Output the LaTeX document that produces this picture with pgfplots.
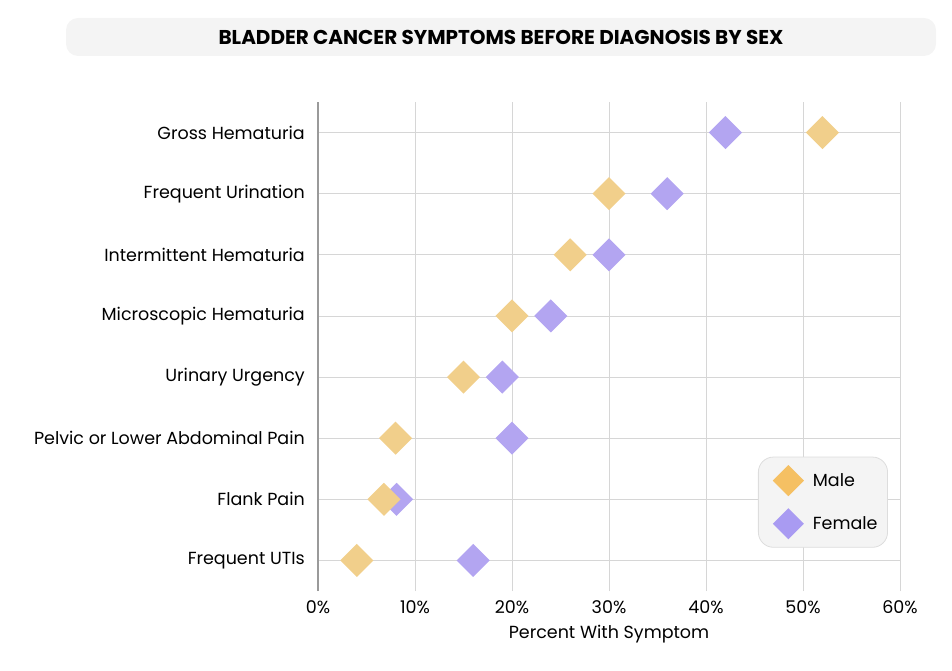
\documentclass[border=0pt]{standalone}
\usepackage{pgfplots}
\pgfplotsset{compat=1.18}
\usepackage{fontspec}
\setmainfont{Poppins}
\definecolor{malec}{HTML}{F5C063}
\definecolor{femalec}{HTML}{A99BF2}
\definecolor{malep}{HTML}{F1CF8B}
\definecolor{femalep}{HTML}{B3A5F1}
\definecolor{titlebg}{HTML}{F4F4F4}
\definecolor{legbg}{HTML}{F4F4F4}
\definecolor{legborder}{HTML}{DDDDDD}
\definecolor{gridc}{HTML}{D6D6D6}
\definecolor{axisc}{HTML}{9A9A9A}
\pgfplotsset{diamondlegend/.style={legend image code/.code={\path (-13pt,0pt); \draw[mark repeat=2,mark phase=2,##1] plot coordinates {(0cm,0cm) (0.3cm,0cm) (0.6cm,0cm)};}}}
\pgfplotstableread{
idx male female
0 4 16
1 6.8 8.1
2 8 20
3 15 19
4 20 24
5 26 30
6 30 36
7 52 42
}\symptoms
\begin{document}
\begin{tikzpicture}[x=1pt,y=1pt]
\useasboundingbox (0,0) rectangle (952,670);
\fill[titlebg, rounded corners=12pt] (66,614) rectangle (936,652);
\node[font=\bfseries\fontsize{20}{22}\selectfont, text=black] at (501,633) {BLADDER CANCER SYMPTOMS BEFORE DIAGNOSIS BY SEX};
\begin{axis}[
  at={(318pt,79pt)}, anchor=south west,
  scale only axis, width=582pt, height=489pt,
  xmin=0, xmax=60, ymin=-0.5, ymax=7.5,
  xtick={0,10,20,30,40,50,60},
  xticklabel={\pgfmathprintnumber{\tick}\%},
  ytick={0,1,2,3,4,5,6,7},
  yticklabels={Frequent UTIs, Flank Pain, Pelvic or Lower Abdominal Pain, Urinary Urgency, Microscopic Hematuria, Intermittent Hematuria, Frequent Urination, Gross Hematuria},
  /pgf/number format/assume math mode=true,
  major tick length=0pt,
  axis lines*=left,
  x axis line style={draw=none},
  y axis line style={draw=axisc, line width=1.2pt},
  grid=major,
  major grid style={draw=gridc, line width=0.8pt},
  tick label style={font=\fontsize{17.5}{20}\selectfont, text=black},
  xticklabel style={anchor=center, yshift=-16pt},
  yticklabel style={anchor=east, inner sep=0pt, xshift=-13pt},
  xlabel={Percent With Symptom},
  xlabel style={font=\fontsize{17.5}{20}\selectfont, at={(axis description cs:0.5,0)}, anchor=center, yshift=-43pt},
  clip=false,
  legend cell align=left,
  legend style={at={(axis description cs:0.756,0.2747)}, anchor=north west,
    draw=legborder, fill=legbg, rounded corners=15pt, line width=0.8pt,
    inner xsep=8pt, inner ysep=8pt, row sep=12pt,
    font=\fontsize{17.5}{20}\selectfont,
    /tikz/every odd column/.append style={column sep=7pt}},
]
\addplot[only marks, mark=square*, mark size=11.7pt, mark options={rotate=45, draw opacity=0, fill=femalep}, forget plot] table[x=female, y=idx] {\symptoms};
\addplot[only marks, mark=square*, mark size=11.7pt, mark options={rotate=45, draw opacity=0, fill=malep}, forget plot] table[x=male, y=idx] {\symptoms};
\addlegendimage{only marks, mark=square*, mark size=11pt, mark options={rotate=45, draw opacity=0, fill=malec}, diamondlegend}
\addlegendentry{Male}
\addlegendimage{only marks, mark=square*, mark size=11pt, mark options={rotate=45, draw opacity=0, fill=femalec}, diamondlegend}
\addlegendentry{Female}
\end{axis}
\end{tikzpicture}
\end{document}
